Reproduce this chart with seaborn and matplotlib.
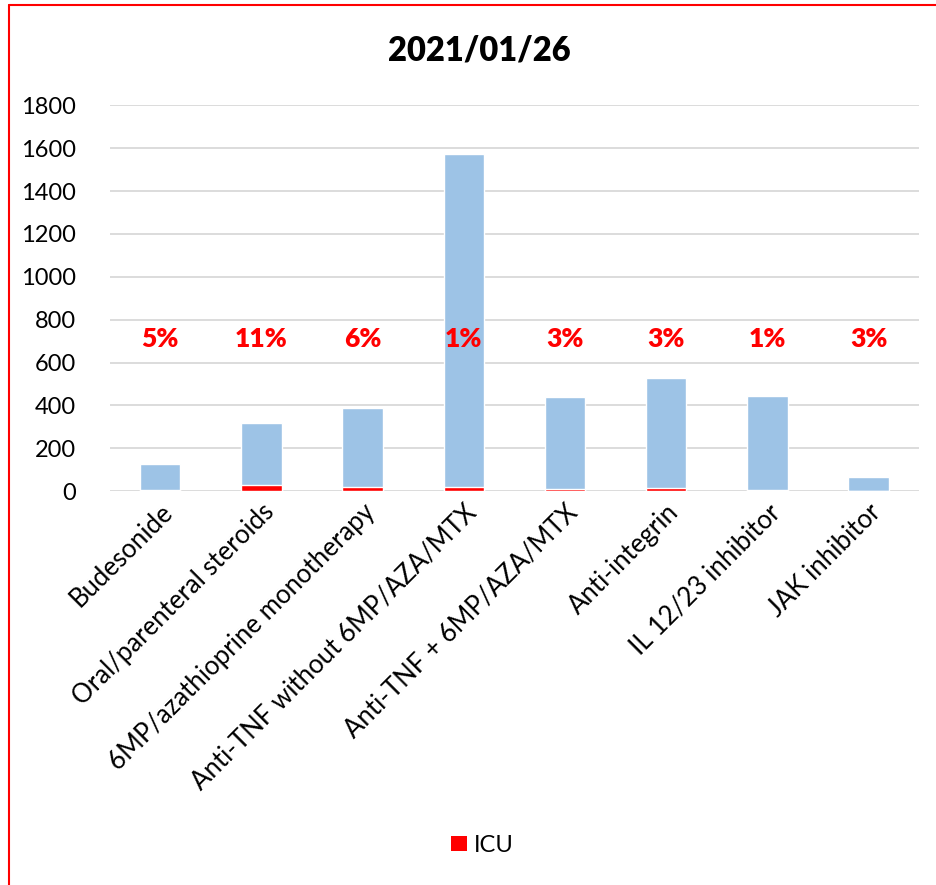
import matplotlib
matplotlib.use("Agg")
import matplotlib.pyplot as plt
from matplotlib.lines import Line2D
from matplotlib.patches import Patch
import pandas as pd
import seaborn as sns

categories = [
    "Budesonide",
    "Oral/parenteral steroids",
    "6MP/azathioprine monotherapy",
    "Anti-TNF without 6MP/AZA/MTX",
    "Anti-TNF + 6MP/AZA/MTX",
    "Anti-integrin",
    "IL 12/23 inhibitor",
    "JAK inhibitor",
]
totals = [125, 318, 390, 1575, 437, 527, 445, 67]
icu = [6, 30, 20, 18, 9, 13, 4, 2]
pct_labels = ["5%", "11%", "6%", "1%", "3%", "3%", "1%", "3%"]
title = "2021/01/26"

sns.set_theme(style="white")
plt.rcParams["font.family"] = ["Lato", "DejaVu Sans"]
plt.rcParams["text.color"] = "black"

df = pd.DataFrame({"category": categories, "total": totals, "icu": icu})

fig = plt.figure(figsize=(9.37, 8.85), dpi=100)
ax = fig.add_axes([0.117, 0.445, 0.864, 0.436])

sns.barplot(data=df, x="category", y="total", color="#9DC3E6", width=0.4,
            saturation=1, ax=ax, zorder=2)
sns.barplot(data=df, x="category", y="icu", color="#FF0000", width=0.4,
            saturation=1, ax=ax, zorder=3)

for i, lab in enumerate(pct_labels):
    ax.text(i, 710, lab, ha="center", va="center", color="#FF0000",
            fontsize=19, fontweight="heavy", zorder=4)

ax.set_ylim(0, 1800)
ax.set_xlim(-0.5, len(categories) - 0.5)
ax.set_yticks(range(0, 1801, 200))
ax.yaxis.grid(True, color="#D9D9D9", linewidth=1.3, zorder=0)
ax.set_axisbelow(True)
for s in ax.spines.values():
    s.set_visible(False)
ax.set_xlabel("")
ax.set_ylabel("")
ax.set_xticks(range(len(categories)))
ax.set_xticklabels(categories, rotation=45, ha="right", rotation_mode="anchor")
ax.tick_params(axis="both", length=0, colors="black")
ax.tick_params(axis="y", labelsize=17, pad=24)
ax.tick_params(axis="x", labelsize=18.5, pad=6)

fig.text(0.512, 0.943, title, ha="center", va="center", fontsize=23.5,
         fontweight="heavy", color="black")

fig.legend(handles=[Patch(facecolor="#FF0000", edgecolor="none", label="ICU")],
           loc="center", bbox_to_anchor=(0.515, 0.045), frameon=False,
           fontsize=17, handlelength=0.65, handleheight=0.65, handletextpad=0.3)

# red chart frame (top and left edges visible)
fig.add_artist(Line2D([9 / 937, 9 / 937], [0, 1 - 5 / 885], color="#FF0000",
                      linewidth=1.5, transform=fig.transFigure))
fig.add_artist(Line2D([9 / 937, 1], [1 - 5 / 885, 1 - 5 / 885], color="#FF0000",
                      linewidth=1.5, transform=fig.transFigure))

fig.savefig("out.png", dpi=100)
